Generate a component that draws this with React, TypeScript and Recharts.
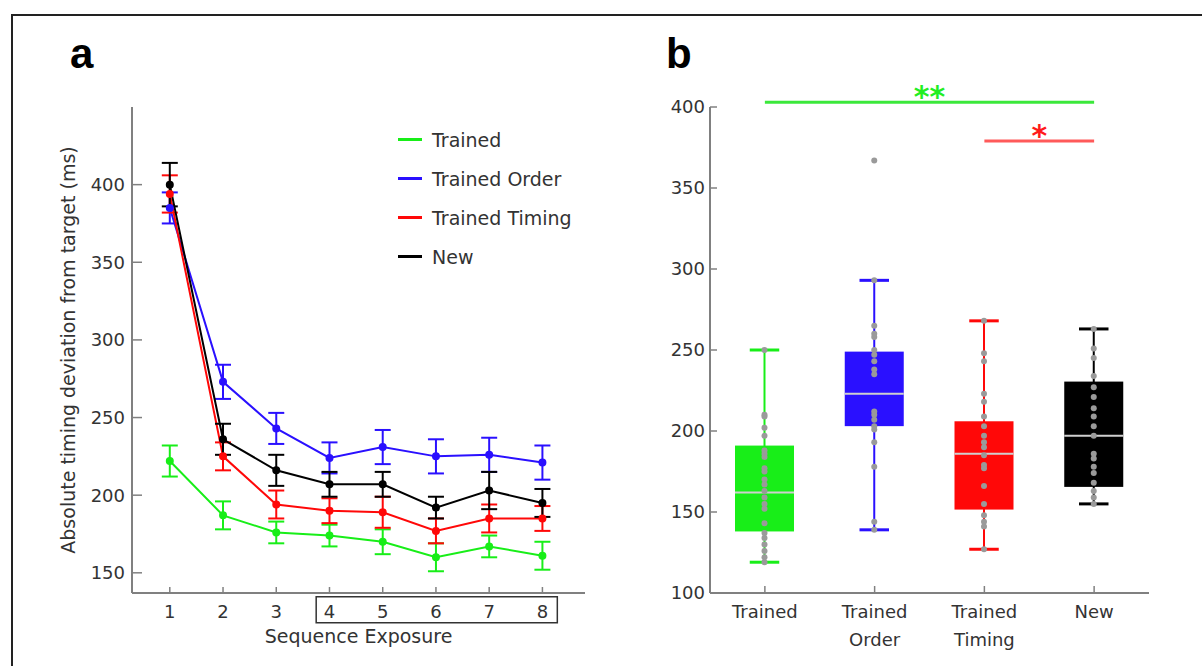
import React from 'react'
import { ComposedChart, Line, XAxis, YAxis, ErrorBar, Legend, ReferenceArea, Bar, ReferenceLine } from 'recharts'

// panel a: mean absolute timing deviation per exposure (+/- error)
const exposures = [1, 2, 3, 4, 5, 6, 7, 8]
const trained = [222, 187, 176, 174, 170, 160, 167, 161]
const trainedErr = [10, 9, 7, 7, 8, 9, 7, 9]
const trainedOrder = [385, 273, 243, 224, 231, 225, 226, 221]
const trainedOrderErr = [10, 11, 10, 10, 11, 11, 11, 11]
const trainedTiming = [394, 225, 194, 190, 189, 177, 185, 185]
const trainedTimingErr = [12, 9, 9, 8, 10, 8, 9, 8]
const newSeq = [400, 236, 216, 207, 207, 192, 203, 195]
const newSeqErr = [14, 10, 10, 8, 8, 7, 12, 9]
const seriesNames = ['Trained', 'Trained Order', 'Trained Timing', 'New']
const yTicksA = [150, 200, 250, 300, 350, 400]

// panel b: box plots per condition
const groups = ['Trained', 'Trained\nOrder', 'Trained\nTiming', 'New']
const whiskerLow = [119, 139, 127, 155]
const q1 = [138, 203, 151.5, 165.5]
const median = [162, 223, 186, 197]
const q3 = [191, 249, 206, 230.5]
const whiskerHigh = [250, 293, 268, 263]
const trainedPoints = [250, 210, 209, 202, 197, 188, 186, 184, 177, 175, 170, 167, 163, 159, 155, 152, 143, 137, 134, 130, 126, 122, 119]
const orderPoints = [367, 293, 265, 260, 258, 250, 247, 243, 238, 235, 212, 210, 207, 203, 201, 193, 178, 144, 139]
const timingPoints = [268, 248, 243, 223, 218, 209, 203, 197, 193, 190, 185, 179, 177, 166, 155, 148, 144, 141, 127]
const newPoints = [263, 251, 245, 234, 227, 221, 214, 209, 203, 197, 186, 183, 178, 174, 168, 163, 159, 155]
const yTicksB = [100, 150, 200, 250, 300, 350, 400]

const C = { green: '#18ee18', blue: '#2a10ff', red: '#ff0808', black: '#000000' }
const boxColors = [C.green, C.blue, C.red, C.black]
const axisGray = '#808080'
const textColor = '#333333'

const lineData = exposures.map((x, i) => ({
    x,
    trained: trained[i], trainedErr: trainedErr[i],
    order: trainedOrder[i], orderErr: trainedOrderErr[i],
    timing: trainedTiming[i], timingErr: trainedTimingErr[i],
    newSeq: newSeq[i], newSeqErr: newSeqErr[i],
}))

const allPoints = [trainedPoints, orderPoints, timingPoints, newPoints]
const boxData = groups.map((name, i) => ({
    name,
    range: [whiskerLow[i], whiskerHigh[i]],
    lo: whiskerLow[i], q1: q1[i], med: median[i], q3: q3[i], hi: whiskerHigh[i],
    points: allPoints[i],
}))

// legend keeps the plotting order instead of alphabetical
const LegendContent = ({ payload }: any) => {
    const items = [...(payload || [])].sort((a: any, b: any) => seriesNames.indexOf(a.value) - seriesNames.indexOf(b.value))
    return (
        <div style={{ fontSize: 19, color: textColor }}>
            {items.map((p: any) => (
                <div key={p.value} style={{ display: 'flex', alignItems: 'center', height: 39 }}>
                    <span style={{ display: 'inline-block', width: 24, height: 3, background: p.color, marginRight: 10 }} />
                    <span>{p.value}</span>
                </div>
            ))}
        </div>
    )
}

const YLabelA = ({ viewBox }: any) => {
    const cx = viewBox.x - 4
    const cy = viewBox.y + viewBox.height / 2
    return (
        <text x={cx} y={cy} transform={`rotate(-90 ${cx} ${cy})`} textAnchor="middle" dominantBaseline="central" fill={textColor} fontSize={19}>
            Absolute timing deviation from target (ms)
        </text>
    )
}

const XLabelA = ({ viewBox }: any) => (
    <text x={viewBox.x + viewBox.width / 2} y={viewBox.y + 50} textAnchor="middle" fill={textColor} fontSize={19}>
        Sequence Exposure
    </text>
)

const GroupTick = ({ x, y, payload }: any) => {
    const lines = String(payload.value).split('\n')
    return (
        <text x={x} y={y + 13} textAnchor="middle" fill={textColor} fontSize={18}>
            {lines.map((l, i) => (
                <tspan key={i} x={x} dy={i === 0 ? 0 : 28}>{l}</tspan>
            ))}
        </text>
    )
}

// draws whiskers, box, median and the individual points from the bar geometry
const BoxShape = (props: any) => {
    const { x, y, width, height, payload, index } = props
    const top = Math.min(y, y + height)
    const bot = Math.max(y, y + height)
    const py = (v: number) => top + ((payload.hi - v) / (payload.hi - payload.lo)) * (bot - top)
    const cx = x + width / 2
    const col = boxColors[index]
    const cap = width / 4
    return (
        <g>
            <line x1={cx} x2={cx} y1={py(payload.hi)} y2={py(payload.lo)} stroke={col} strokeWidth={2} />
            <line x1={cx - cap} x2={cx + cap} y1={py(payload.hi)} y2={py(payload.hi)} stroke={col} strokeWidth={3} />
            <line x1={cx - cap} x2={cx + cap} y1={py(payload.lo)} y2={py(payload.lo)} stroke={col} strokeWidth={3} />
            <rect x={x} y={py(payload.q3)} width={width} height={py(payload.q1) - py(payload.q3)} fill={col} />
            <line x1={x} x2={x + width} y1={py(payload.med)} y2={py(payload.med)} stroke="#cfcfcf" strokeWidth={2} />
            {payload.points.map((v: number, i: number) => (
                <circle key={i} cx={cx} cy={py(v)} r={3} fill="#9a9a9a" />
            ))}
        </g>
    )
}

const SigLabel = ({ viewBox, text, color, dy }: any) => (
    <text x={viewBox.x + viewBox.width / 2} y={viewBox.y + dy} textAnchor="middle" fill={color} fontSize={30} fontWeight="bold">
        {text}
    </text>
)

export default function App() {
    const axisLine = { stroke: axisGray, strokeWidth: 2 }
    const tickLine = { stroke: axisGray, strokeWidth: 1.5 }
    const tick = { fill: textColor, fontSize: 18 }
    return (
        <div style={{ position: 'absolute', left: 0, top: 0, width: 1202, height: 666, overflow: 'hidden', background: '#fff', fontFamily: '"DejaVu Sans", sans-serif' }}>
            {/* figure frame */}
            <div style={{ position: 'absolute', left: 11, top: 14, width: 1300, height: 800, border: '2px solid #222' }} />
            <div style={{ position: 'absolute', left: 70, top: 30, fontFamily: '"Liberation Sans", Arial, sans-serif', fontWeight: 'bold', fontSize: 42 }}>a</div>
            <div style={{ position: 'absolute', left: 666, top: 30, fontFamily: '"Liberation Sans", Arial, sans-serif', fontWeight: 'bold', fontSize: 42 }}>b</div>

            {/* panel a */}
            <div style={{ position: 'absolute', left: 0, top: 0 }}>
                <ComposedChart width={620} height={666} data={lineData} margin={{ top: 107, right: 35, bottom: 33, left: 72 }}>
                    <XAxis type="number" dataKey="x" domain={[0.29, 8.8]} ticks={exposures} allowDataOverflow height={40}
                        axisLine={axisLine} tickLine={tickLine} tickSize={-6} tickMargin={18} tick={tick} label={<XLabelA />} />
                    <YAxis type="number" domain={[137, 450]} ticks={yTicksA} allowDataOverflow width={60}
                        axisLine={axisLine} tickLine={tickLine} tickSize={-10} tickMargin={17} tick={tick} label={<YLabelA />} />
                    <ReferenceArea x1={3.75} x2={8.28} y1={117.9} y2={134.6} ifOverflow="visible" fill="none" fillOpacity={0} stroke="#333" strokeWidth={1.5} />
                    <Legend layout="vertical" align="center" verticalAlign="middle" content={<LegendContent />}
                        wrapperStyle={{ left: 398, top: 120, width: 200, height: 160 }} />
                    <Line dataKey="trained" name={seriesNames[0]} stroke={C.green} strokeWidth={2} dot={{ r: 3, fill: C.green, stroke: C.green }} isAnimationActive={false}>
                        <ErrorBar dataKey="trainedErr" direction="y" width={8} stroke={C.green} strokeWidth={2} />
                    </Line>
                    <Line dataKey="order" name={seriesNames[1]} stroke={C.blue} strokeWidth={2} dot={{ r: 3, fill: C.blue, stroke: C.blue }} isAnimationActive={false}>
                        <ErrorBar dataKey="orderErr" direction="y" width={8} stroke={C.blue} strokeWidth={2} />
                    </Line>
                    <Line dataKey="timing" name={seriesNames[2]} stroke={C.red} strokeWidth={2} dot={{ r: 3, fill: C.red, stroke: C.red }} isAnimationActive={false}>
                        <ErrorBar dataKey="timingErr" direction="y" width={8} stroke={C.red} strokeWidth={2} />
                    </Line>
                    <Line dataKey="newSeq" name={seriesNames[3]} stroke={C.black} strokeWidth={2} dot={{ r: 3, fill: C.black, stroke: C.black }} isAnimationActive={false}>
                        <ErrorBar dataKey="newSeqErr" direction="y" width={8} stroke={C.black} strokeWidth={2} />
                    </Line>
                </ComposedChart>
            </div>

            {/* panel b */}
            <div style={{ position: 'absolute', left: 600, top: 0 }}>
                <ComposedChart width={602} height={666} data={boxData} margin={{ top: 107, right: 53, bottom: 13, left: 50 }}>
                    <XAxis dataKey="name" type="category" interval={0} height={60}
                        axisLine={axisLine} tickLine={tickLine} tickSize={-7} tickMargin={19} tick={<GroupTick />} />
                    <YAxis type="number" domain={[100, 400]} ticks={yTicksB} allowDataOverflow width={60}
                        axisLine={axisLine} tickLine={tickLine} tickSize={-7} tickMargin={12} tick={tick} />
                    <Bar dataKey="range" barSize={59} shape={<BoxShape />} isAnimationActive={false} />
                    <ReferenceLine segment={[{ x: groups[0], y: 403 }, { x: groups[3], y: 403 }]} ifOverflow="visible"
                        stroke="#3be83b" strokeWidth={3} label={<SigLabel text="**" color="#22ee22" dy={5} />} />
                    <ReferenceLine segment={[{ x: groups[2], y: 379 }, { x: groups[3], y: 379 }]} ifOverflow="visible"
                        stroke="#ff5a5a" strokeWidth={3} label={<SigLabel text="*" color="#ff1a1a" dy={5} />} />
                </ComposedChart>
            </div>
        </div>
    )
}
